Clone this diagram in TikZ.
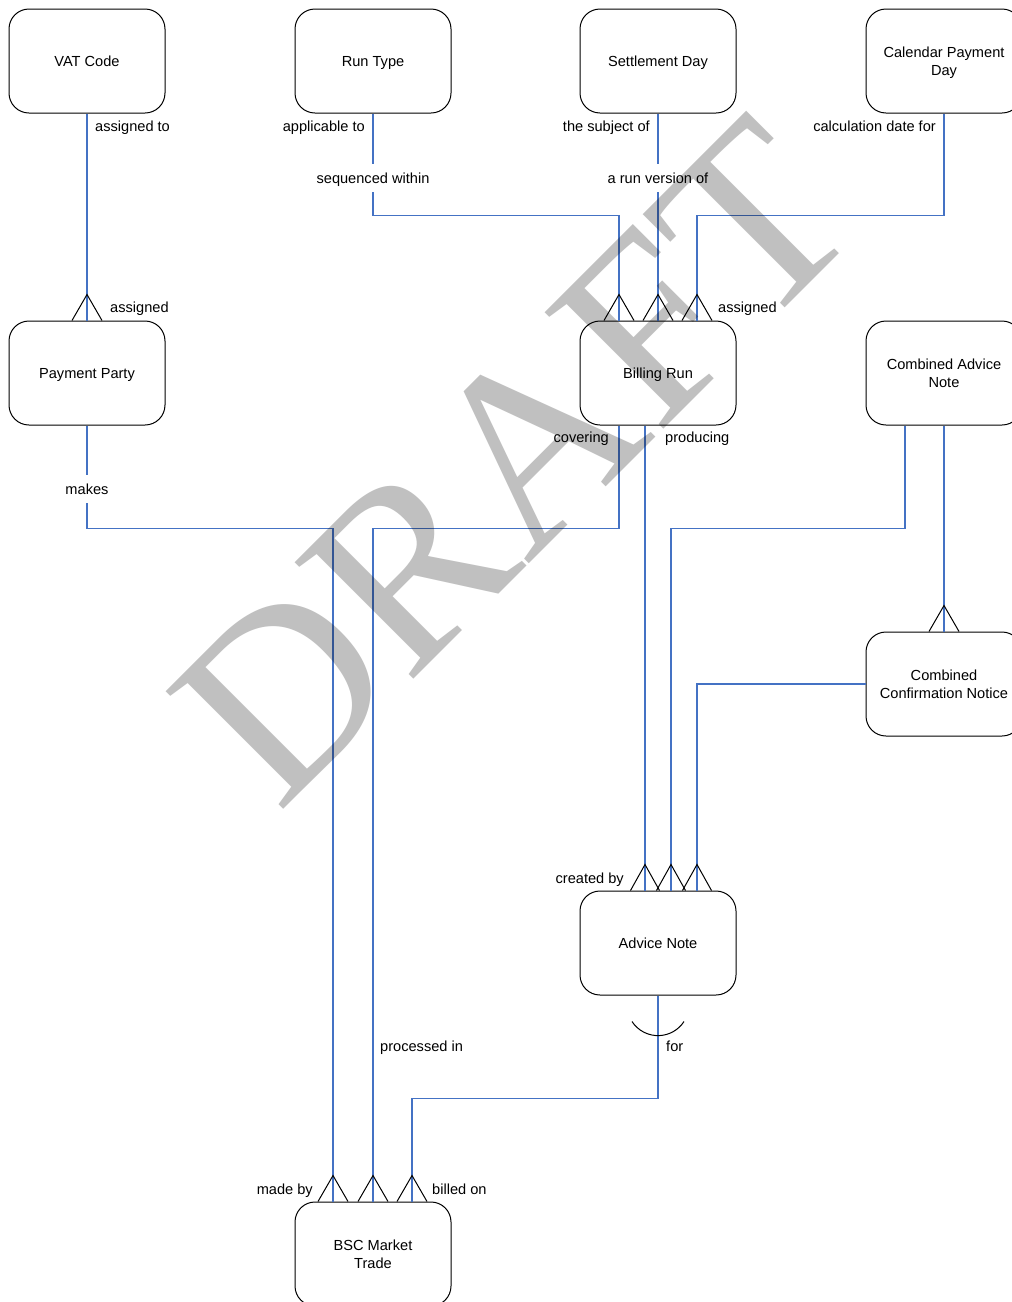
\documentclass[tikz,border=0pt]{standalone}
\usepackage{fontspec}
\setmainfont{Liberation Sans}
\newfontfamily\wmfont{Liberation Serif}
\usetikzlibrary{calc}
\definecolor{linkblue}{RGB}{68,114,196}
\definecolor{wmgray}{RGB}{192,192,192}
\begin{document}
\begin{tikzpicture}[x=1pt, y=-1pt,
  font=\fontsize{14.6}{18}\selectfont,
  entity/.style={draw=black, line width=1pt, rounded corners=20pt, minimum width=156pt, minimum height=104pt, align=center, inner sep=2pt, text depth=0pt},
  conn/.style={color=linkblue, draw=linkblue, line width=1.3pt},
  foot/.style={color=black, draw=black, line width=1pt, line join=miter},
  lbl/.style={inner sep=0pt},
  gaplbl/.style={fill=white, inner xsep=1pt, inner ysep=0pt, text height=19pt, text depth=9pt}]
\useasboundingbox (0,0) rectangle (1012,1302);
\fill[white] (0,0) rectangle (1012,1302);
\clip (0,0) rectangle (1012,1302);

% entities
\node[entity] (vat) at (87,61) {VAT Code};
\node[entity] (rt)  at (373,61) {Run Type};
\node[entity] (sd)  at (658,61) {Settlement Day};
\node[entity] (cpd) at (944,61) {Calendar Payment\\Day};
\node[entity] (pp)  at (87,373) {Payment Party};
\node[entity] (br)  at (658,373) {Billing Run};
\node[entity] (can) at (944,373) {Combined Advice\\Note};
\node[entity] (ccn) at (944,684) {Combined\\Confirmation Notice};
\node[entity] (an)  at (658,943) {Advice Note};
\node[entity] (bsc) at (373,1254) {BSC Market\\Trade};

% connectors
\draw[conn] (vat.south) -- (pp.north);
\draw[conn] (rt.south) -- ++(0,102) -| ([xshift=-39pt]br.north);
\draw[conn] (sd.south) -- (br.north);
\draw[conn] (cpd.south) -- ++(0,102) -| ([xshift=39pt]br.north);
\draw[conn] (pp.south) -- ++(0,103) -| ([xshift=-40pt]bsc.north);
\draw[conn] ([xshift=-39pt]br.south) -- ++(0,103) -| (bsc.north);
\draw[conn] ([xshift=-13pt]br.south) -- ([xshift=-13pt]an.north);
\draw[conn] ([xshift=-39pt]can.south) -- ++(0,103) -| ([xshift=13pt]an.north);
\draw[conn] (can.south) -- (ccn.north);
\draw[conn] (ccn.west) -| ([xshift=39pt]an.north);
\draw[conn] (an.south) -- ++(0,103) -| ([xshift=39pt]bsc.north);

% crow's feet
\newcommand\crowfoot[2]{\draw[foot] ([xshift=-#2]#1) -- ([yshift=26pt]#1) -- ([xshift=#2]#1);}
\crowfoot{pp.north}{15pt}
\crowfoot{$(br.north)+(-39pt,0)$}{15pt}
\crowfoot{br.north}{15pt}
\crowfoot{$(br.north)+(39pt,0)$}{15pt}
\crowfoot{ccn.north}{15pt}
\crowfoot{$(an.north)+(-13pt,0)$}{14.5pt}
\crowfoot{$(an.north)+(13pt,0)$}{14.5pt}
\crowfoot{$(an.north)+(39pt,0)$}{14.5pt}
\crowfoot{$(bsc.north)+(-40pt,0)$}{15pt}
\crowfoot{bsc.north}{15pt}
\crowfoot{$(bsc.north)+(39pt,0)$}{15pt}

% optional arc under Advice Note
\draw[foot] ([xshift=-26pt,yshift=-26pt]an.south) arc[start angle=213, end angle=327, radius=31pt];

% labels
\node[lbl, anchor=base west] (l1) at (95,131) {assigned to};
\node[lbl, anchor=base east] (l2) at (365,131) {applicable to};
\node[lbl, anchor=base east] (l3) at (650,131) {the subject of};
\node[lbl, anchor=base east] (l4) at (936,131) {calculation date for};
\node[gaplbl, anchor=base] (l5) at (373,183) {sequenced within};
\node[gaplbl, anchor=base] (l6) at (658,183) {a run version of};
\node[lbl, anchor=base west] (l7) at (110,312) {assigned};
\node[lbl, anchor=base west] (l8) at (718,312) {assigned};
\node[lbl, anchor=base east] (l9) at (609,442) {covering};
\node[lbl, anchor=base west] (l10) at (665,442) {producing};
\node[gaplbl, anchor=base] (l11) at (87,494) {makes};
\node[lbl, anchor=base east] (l12) at (624,883) {created by};
\node[lbl, anchor=base west] (l13) at (380,1051) {processed in};
\node[lbl, anchor=base west] (l14) at (666,1051) {for};
\node[lbl, anchor=base east] (l15) at (313,1194) {made by};
\node[lbl, anchor=base west] (l16) at (432,1194) {billed on};

% watermark, multiplied over the drawing
\begin{scope}[blend mode=multiply]
\node[inner sep=0pt, anchor=base west, rotate=45, text=wmgray, font=\wmfont\fontsize{254}{254}\selectfont] (wm) at (278,815) {DRAFT};
\end{scope}
\end{tikzpicture}
\end{document}
